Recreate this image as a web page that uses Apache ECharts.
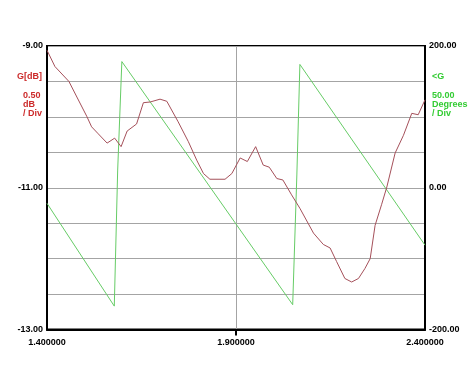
<!DOCTYPE html>
<html>
<head>
<meta charset="utf-8">
<script src="https://cdn.jsdelivr.net/npm/echarts@6/dist/echarts.min.js"></script>
<style>html,body{margin:0;padding:0;background:#fff;}#c{width:474px;height:378px;}</style>
</head>
<body>
<div id="c"></div>
<script>
// Frequency (x) and gain (dB) samples
const gainFreq = [1.400,1.421,1.458,1.479,1.505,1.518,1.534,1.559,1.579,1.596,1.612,1.637,1.655,1.673,1.699,1.717,1.747,1.774,1.796,1.814,1.831,1.871,1.889,1.911,1.930,1.952,1.972,1.988,2.008,2.024,2.047,2.069,2.105,2.131,2.149,2.166,2.188,2.206,2.224,2.241,2.255,2.268,2.285,2.299,2.321,2.343,2.365,2.382,2.400];
const gainDb =   [-9.06,-9.29,-9.50,-9.72,-9.99,-10.14,-10.23,-10.37,-10.30,-10.42,-10.20,-10.10,-9.80,-9.79,-9.75,-9.78,-10.07,-10.35,-10.61,-10.80,-10.88,-10.88,-10.80,-10.58,-10.63,-10.42,-10.68,-10.71,-10.87,-10.89,-11.10,-11.29,-11.64,-11.80,-11.85,-12.04,-12.28,-12.33,-12.28,-12.14,-12.00,-11.53,-11.24,-10.99,-10.51,-10.26,-9.95,-9.97,-9.76];
// Phase samples (degrees)
const phaseFreq = [1.400,1.578,1.587,1.598,2.050,2.061,2.069,2.400];
const phaseDeg =  [-22,-167,25,178,-165,18,174,-81];
// Axis tick labels
const xLabels = [1.4,1.9,2.4];
const xTicks = [1.9];
const leftLabels = [-13,-11,-9];
const rightLabels = [-200,0,200];

const gainData = gainFreq.map((f,i)=>[f,gainDb[i]]);
const phaseData = phaseFreq.map((f,i)=>[f,phaseDeg[i]]);

const lblFont = {fontFamily:'Liberation Sans, Arial, sans-serif', fontWeight:'bold', fontSize:9, color:'#000'};

const chart = echarts.init(document.getElementById('c'), null, {renderer:'canvas'});
chart.setOption({
  animation:false,
  backgroundColor:'#fff',
  grid:{left:47, top:46, right:49, bottom:48.5, show:true, borderColor:'#000', borderWidth:2, backgroundColor:'transparent', containLabel:false},
  xAxis:{
    type:'value', min:1.4, max:2.4, interval:0.1,
    axisLine:{show:true, onZero:false, lineStyle:{color:'#000', width:2}},
    axisTick:{show:true, customValues:xTicks, length:6, lineStyle:{color:'#000', width:2}},
    axisLabel:Object.assign({customValues:xLabels, margin:9, formatter:v=>Number(v).toFixed(6)}, lblFont),
    splitLine:{show:true, lineStyle:{color:'#a4a4a4', width:1}}
  },
  yAxis:[{
    type:'value', min:-13, max:-9, interval:0.5,
    axisLine:{show:true, onZero:false, lineStyle:{color:'#000', width:2}},
    axisTick:{show:false},
    axisLabel:Object.assign({customValues:leftLabels, margin:4, formatter:v=>Number(v).toFixed(2)}, lblFont),
    splitLine:{show:true, lineStyle:{color:'#a4a4a4', width:1}}
  },{
    type:'value', min:-200, max:200, interval:50, position:'right',
    axisLine:{show:true, onZero:false, lineStyle:{color:'#000', width:2}},
    axisTick:{show:false},
    axisLabel:Object.assign({customValues:rightLabels, margin:4, formatter:v=>Number(v).toFixed(2)}, lblFont),
    splitLine:{show:false}
  }],
  series:[{
    type:'line', yAxisIndex:0, data:gainData, showSymbol:false, symbol:'none',
    lineStyle:{color:'#a5505a', width:1}, z:3
  },{
    type:'line', yAxisIndex:1, data:phaseData, showSymbol:false, symbol:'none',
    lineStyle:{color:'#66cc66', width:1}, z:2
  }],
  graphic:[
    {type:'text', right:432, top:72, style:{text:'G[dB]', fill:'#cc2a2a', font:'bold 9px "Liberation Sans", Arial, sans-serif', align:'right'}},
    {type:'text', right:432, top:91, style:{text:'0.50\ndB\n/ Div', fill:'#cc2a2a', font:'bold 9px "Liberation Sans", Arial, sans-serif', align:'right', lineHeight:9}},
    {type:'text', left:432, top:72, style:{text:'<G', fill:'#33cc33', font:'bold 9px "Liberation Sans", Arial, sans-serif'}},
    {type:'text', left:432, top:91, style:{text:'50.00\nDegrees\n/ Div', fill:'#33cc33', font:'bold 9px "Liberation Sans", Arial, sans-serif', lineHeight:9}}
  ]
});
</script>
</body>
</html>
